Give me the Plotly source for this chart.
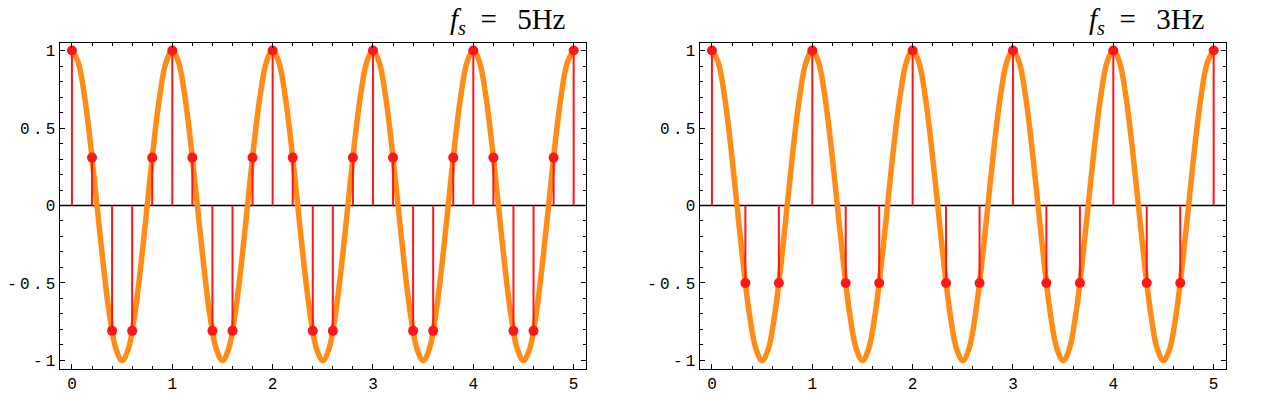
import plotly.graph_objects as go
from plotly.subplots import make_subplots

# continuous signal (read at 1/16-period steps), drawn as a smooth spline
curve_t = [0, 0.0625, 0.125, 0.1875, 0.25, 0.3125, 0.375, 0.4375,
           0.5, 0.5625, 0.625, 0.6875, 0.75, 0.8125, 0.875, 0.9375,
           1, 1.0625, 1.125, 1.1875, 1.25, 1.3125, 1.375, 1.4375,
           1.5, 1.5625, 1.625, 1.6875, 1.75, 1.8125, 1.875, 1.9375,
           2, 2.0625, 2.125, 2.1875, 2.25, 2.3125, 2.375, 2.4375,
           2.5, 2.5625, 2.625, 2.6875, 2.75, 2.8125, 2.875, 2.9375,
           3, 3.0625, 3.125, 3.1875, 3.25, 3.3125, 3.375, 3.4375,
           3.5, 3.5625, 3.625, 3.6875, 3.75, 3.8125, 3.875, 3.9375,
           4, 4.0625, 4.125, 4.1875, 4.25, 4.3125, 4.375, 4.4375,
           4.5, 4.5625, 4.625, 4.6875, 4.75, 4.8125, 4.875, 4.9375, 5]
curve_y = [1, 0.924, 0.707, 0.383, 0, -0.383, -0.707, -0.924,
           -1, -0.924, -0.707, -0.383, 0, 0.383, 0.707, 0.924,
           1, 0.924, 0.707, 0.383, 0, -0.383, -0.707, -0.924,
           -1, -0.924, -0.707, -0.383, 0, 0.383, 0.707, 0.924,
           1, 0.924, 0.707, 0.383, 0, -0.383, -0.707, -0.924,
           -1, -0.924, -0.707, -0.383, 0, 0.383, 0.707, 0.924,
           1, 0.924, 0.707, 0.383, 0, -0.383, -0.707, -0.924,
           -1, -0.924, -0.707, -0.383, 0, 0.383, 0.707, 0.924,
           1, 0.924, 0.707, 0.383, 0, -0.383, -0.707, -0.924,
           -1, -0.924, -0.707, -0.383, 0, 0.383, 0.707, 0.924, 1]

# samples at fs = 5 Hz
t5 = [0, 0.2, 0.4, 0.6, 0.8, 1.0, 1.2, 1.4, 1.6, 1.8, 2.0, 2.2, 2.4, 2.6, 2.8,
      3.0, 3.2, 3.4, 3.6, 3.8, 4.0, 4.2, 4.4, 4.6, 4.8, 5.0]
y5 = [1, 0.309, -0.809, -0.809, 0.309, 1, 0.309, -0.809, -0.809, 0.309,
      1, 0.309, -0.809, -0.809, 0.309, 1, 0.309, -0.809, -0.809, 0.309,
      1, 0.309, -0.809, -0.809, 0.309, 1]

# samples at fs = 3 Hz
t3 = [0, 0.333, 0.667, 1.0, 1.333, 1.667, 2.0, 2.333, 2.667, 3.0,
      3.333, 3.667, 4.0, 4.333, 4.667, 5.0]
y3 = [1, -0.5, -0.5, 1, -0.5, -0.5, 1, -0.5, -0.5, 1, -0.5, -0.5, 1, -0.5, -0.5, 1]

titles = ["5Hz", "3Hz"]
x_ticks = [0, 1, 2, 3, 4, 5]
y_ticks = [-1, -0.5, 0, 0.5, 1]
y_ticktext = ["-1", "-0.5", "0", "0.5", "1"]

ORANGE = "rgb(255,140,22)"
RED = "rgb(255,22,22)"
OFF = 8  # page body margin
W, H = 1269 - OFF, 399 - OFF

fig = make_subplots(rows=1, cols=2)

for col, (ts, ys) in enumerate([(t5, y5), (t3, y3)], start=1):
    fig.add_trace(go.Scatter(x=curve_t, y=curve_y, mode="lines",
                             line=dict(color=ORANGE, width=5.5, shape="spline", smoothing=1.0),
                             hoverinfo="skip", showlegend=False), row=1, col=col)
    sx, sy = [], []
    for t, v in zip(ts, ys):
        sx += [t, t, None]
        sy += [0, v, None]
    fig.add_trace(go.Scatter(x=sx, y=sy, mode="lines",
                             line=dict(color=RED, width=2),
                             hoverinfo="skip", showlegend=False), row=1, col=col)
    fig.add_trace(go.Scatter(x=ts, y=ys, mode="markers",
                             marker=dict(color=RED, size=10),
                             showlegend=False), row=1, col=col)

xdoms = [[(59.5 - OFF) / W, (585.5 - OFF) / W], [(699.5 - OFF) / W, (1225.5 - OFF) / W]]
ydom = [1 - (368.5 - OFF) / H, 1 - (42.5 - OFF) / H]
tickfont = dict(family="Liberation Mono", size=16, color="black")
SP = "\u2009"

for i in range(2):
    xa = "xaxis" if i == 0 else "xaxis2"
    ya = "yaxis" if i == 0 else "yaxis2"
    fig.layout[xa].update(domain=xdoms[i], range=[-0.124, 5.118], automargin=False,
                          showgrid=False, zeroline=False,
                          showline=True, linecolor="black", linewidth=1, mirror="ticks",
                          ticks="inside", ticklen=5, tickcolor="black", tickwidth=1,
                          tickvals=x_ticks, ticktext=[str(v) for v in x_ticks],
                          tickfont=tickfont,
                          minor=dict(ticks="inside", ticklen=3, dtick=0.2, tick0=0,
                                     tickcolor="black", showgrid=False))
    fig.layout[ya].update(domain=ydom, range=[-1.052, 1.052], automargin=False,
                          showgrid=False, zeroline=False,
                          showline=True, linecolor="black", linewidth=1, mirror="ticks",
                          ticks="inside", ticklen=5, tickcolor="black", tickwidth=1,
                          tickvals=y_ticks, ticktext=[SP.join(s) for s in y_ticktext],
                          tickfont=tickfont,
                          minor=dict(ticks="inside", ticklen=3, dtick=0.1, tick0=0,
                                     tickcolor="black", showgrid=False))
    xref = "x domain" if i == 0 else "x2 domain"
    yref = "y" if i == 0 else "y2"
    fig.add_shape(type="line", xref=xref, yref=yref, x0=0, x1=1, y0=0, y1=0,
                  line=dict(color="black", width=1.5), layer="below")

title_right = [568, 1207]
for i, lab in enumerate(titles):
    fig.add_annotation(xref="paper", yref="paper", x=(title_right[i] - OFF) / W,
                       y=1 - (41 - OFF) / H,
                       xanchor="right", yanchor="bottom", showarrow=False,
                       text="<i>f</i><sub><i>s</i></sub>\u2002=\u2002\u2009" + lab,
                       font=dict(family="Liberation Serif", size=29, color="black"))

fig.update_layout(width=W, height=H, margin=dict(l=0, r=0, t=0, b=0),
                  paper_bgcolor="white", plot_bgcolor="white")

fig.write_html("out.html")
